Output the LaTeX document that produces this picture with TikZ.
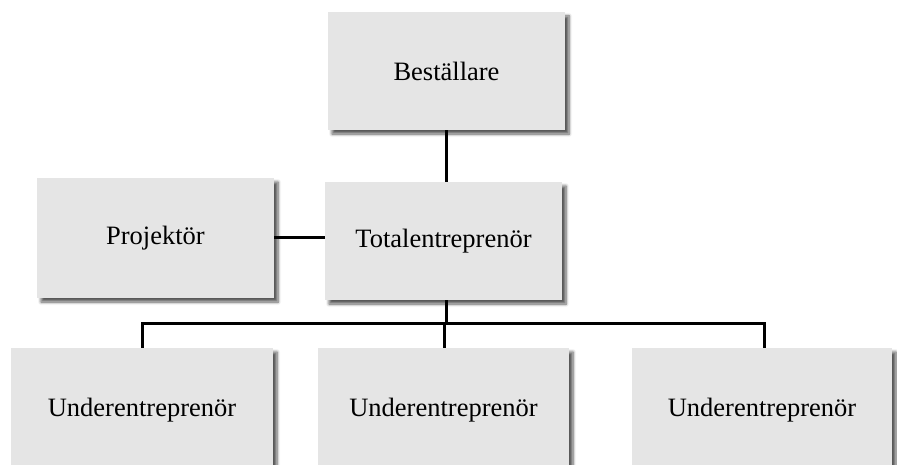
\documentclass[tikz,border=0pt]{standalone}
\usepackage{fontspec}
\setmainfont{Liberation Serif}
\usetikzlibrary{shadows.blur}
\begin{document}
\begin{tikzpicture}[x=1pt,y=-1pt,
  orgbox/.style={draw=none, fill=boxgray, inner sep=0pt, font=\fontsize{26.5}{30}\selectfont,
    blur shadow={shadow xshift=4pt, shadow yshift=-4pt, shadow blur steps=6, shadow blur radius=3pt, shadow opacity=65}},
  link/.style={line width=3pt, black}]
\definecolor{boxgray}{HTML}{E5E5E5}
\useasboundingbox (0,0) rectangle (897,465);
\clip (0,0) rectangle (897,465);
\node[orgbox, minimum width=237pt, minimum height=118pt] (B) at (446.5,71) {Beställare};
\node[orgbox, minimum width=237pt, minimum height=118pt] (T) at (443.5,241) {Totalentreprenör};
\node[orgbox, minimum width=237pt, minimum height=120pt] (P) at (155.5,238) {Projektör};
\node[orgbox, minimum width=262pt, minimum height=124pt] (U1) at (142,410) {Underentreprenör};
\node[orgbox, minimum width=251pt, minimum height=124pt] (U2) at (443.5,410) {Underentreprenör};
\node[orgbox, minimum width=260pt, minimum height=124pt] (U3) at (762,410) {Underentreprenör};
\coordinate (J) at (446,323);
\draw[link] (B.south -| 446,0) -- (T.north -| 446,0);
\draw[link] (P.east |- 0,238) -- (T.west |- 0,238);
\draw[link] (T.south -| J) -- (J);
\draw[link] (U1.north -| 142,0) |- (J) -| (U3.north -| 764,0);
\draw[link] (J -| 444,0) -- (U2.north -| 444,0);
\end{tikzpicture}
\end{document}
